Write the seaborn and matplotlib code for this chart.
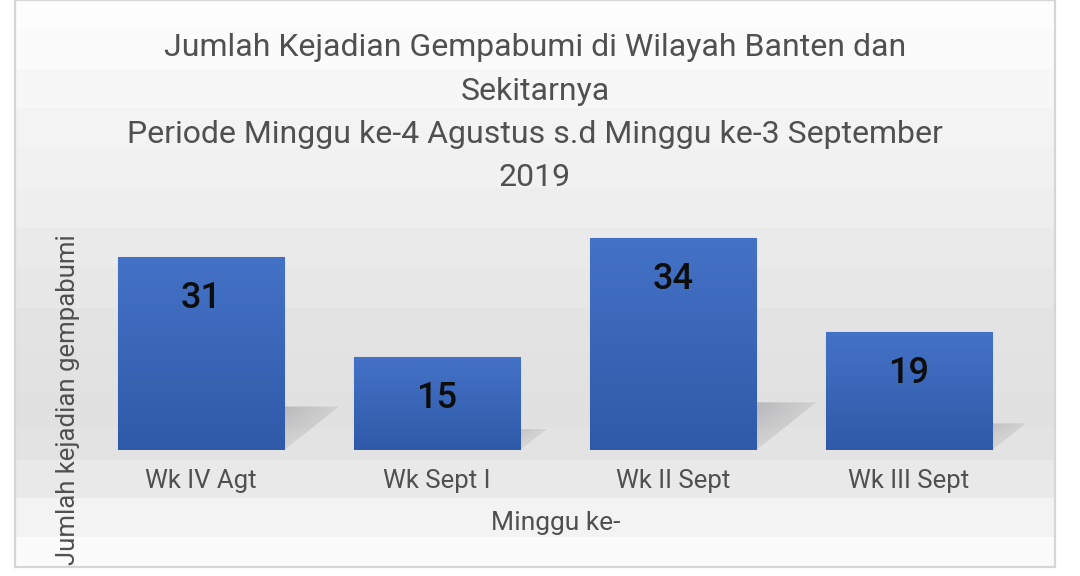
import numpy as np
import pandas as pd
import matplotlib
matplotlib.use("Agg")
import matplotlib.pyplot as plt
import seaborn as sns
from matplotlib.patches import Polygon
from matplotlib.colors import LinearSegmentedColormap

# ---- data ----
weeks = ["Wk IV Agt", "Wk Sept I", "Wk II Sept", "Wk III Sept"]
counts = [31, 15, 34, 19]
title_lines = [
    "Jumlah Kejadian Gempabumi di Wilayah Banten dan",
    "Sekitarnya",
    "Periode Minggu ke-4 Agustus s.d Minggu ke-3 September",
    "2019",
]
x_title = "Minggu ke-"
y_title = "Jumlah kejadian gempabumi"

sns.set_theme(style="white")
plt.rcParams['font.family'] = ['Roboto', 'DejaVu Sans']

W, H = 1080, 576
fig = plt.figure(figsize=(W / 100, H / 100), dpi=100)
fig.patch.set_facecolor('white')

TXT = '#505050'

# ---- background frame with stepped vertical gradient ----
fx0, fx1, fy1 = 15, 1055, 567
bg = fig.add_axes([fx0 / W, 1 - fy1 / H, (fx1 - fx0) / W, fy1 / H], zorder=0)
bands = [(0, 28, 253), (28, 69, 251), (69, 108, 247), (108, 148, 244),
         (148, 188, 241), (188, 228, 238), (228, 268, 234), (268, 308, 231),
         (308, 348, 228), (348, 388, 226), (388, 428, 225), (428, 460, 227),
         (460, 498, 233), (498, 537, 243), (537, 567, 251)]
arr = np.zeros((fy1, 1))
for a, b, g in bands:
    arr[a:b] = g
bg.imshow(arr, cmap='gray', vmin=0, vmax=255, aspect='auto',
          extent=(0, 1, 0, 1), interpolation='nearest')
bg.set_xticks([]); bg.set_yticks([])
for s in bg.spines.values():
    s.set_color('#d6d6d6'); s.set_linewidth(1.6)

# ---- main axes ----
ax = fig.add_axes([83 / W, 1 - 450 / H, 944 / W, 218 / H], zorder=1)
ax.patch.set_alpha(0)
df = pd.DataFrame({"week": weeks, "count": counts})
sns.barplot(data=df, x="week", y="count", color="#3a67bb", saturation=1,
            width=0.705, ax=ax, zorder=3)

bar_cmap = LinearSegmentedColormap.from_list("bar", ["#2f5aa8", "#4472c6"])
grad = np.linspace(0, 1, 256).reshape(-1, 1)[::-1]

for patch, v in zip(ax.patches, counts):
    x0 = patch.get_x(); w = patch.get_width(); h = patch.get_height()
    patch.set_edgecolor("#5f86cf"); patch.set_linewidth(0.8)
    im = ax.imshow(grad, cmap=bar_cmap, vmin=0, vmax=1, aspect='auto',
                   extent=(x0, x0 + w, 0, h), zorder=3.5, origin='upper')
    im.set_clip_path(patch)
    # shadow
    hs = 0.225 * h
    dx = 0.0075 * h
    poly = Polygon([(x0, 0), (x0 + w, 0), (x0 + w + dx, hs), (x0 + dx, hs)],
                   closed=True, facecolor='none', edgecolor='none', zorder=2)
    ax.add_patch(poly)
    ny, nx = 60, 120
    yy = np.linspace(1, 0, ny).reshape(-1, 1)
    xx = np.linspace(0, 1, nx).reshape(1, -1)
    alpha = 0.62 * (0.35 + 0.65 * yy) * np.clip(1.25 - xx ** 2, 0, 1)
    rgba = np.zeros((ny, nx, 4))
    rgba[..., 0] = 0.52; rgba[..., 1] = 0.51; rgba[..., 2] = 0.53
    rgba[..., 3] = np.clip(alpha, 0, 1)
    sh = ax.imshow(rgba, aspect='auto', extent=(x0, x0 + w + dx, 0, hs),
                   zorder=2, origin='upper')
    sh.set_clip_path(poly)
    # value label
    ax.annotate(str(v), xy=(x0 + w / 2, h), xytext=(0, -30),
                textcoords='offset points', ha='center', va='center',
                fontsize=26, fontweight='medium', color='#0d0d0d',
                family=['Roboto', 'DejaVu Sans'], zorder=5)

ax.set_xlim(-0.5, 3.5)
ax.set_ylim(0, 35)
ax.set_yticks([])
for s in ax.spines.values():
    s.set_visible(False)
ax.tick_params(axis='x', length=0, pad=14, labelsize=18.5, labelcolor=TXT)

ax.set_xlabel(x_title, fontsize=19, color=TXT)
ax.xaxis.set_label_coords((556 - 83) / 944, (450 - 523) / 218)
ax.xaxis.label.set_va('center')
ax.set_ylabel(y_title, fontsize=18.5, color=TXT)
ax.yaxis.set_label_coords((68 - 83) / 944, (450 - 400) / 218)
ax.yaxis.label.set_va('center')

# ---- title ----
baselines = [56, 99.5, 143, 186.5]
for line, yb in zip(title_lines, baselines):
    fig.text(535 / W, 1 - yb / H, line, ha='center', va='baseline',
             fontsize=23, color=TXT)

fig.savefig("out.png", dpi=100, facecolor='white')
